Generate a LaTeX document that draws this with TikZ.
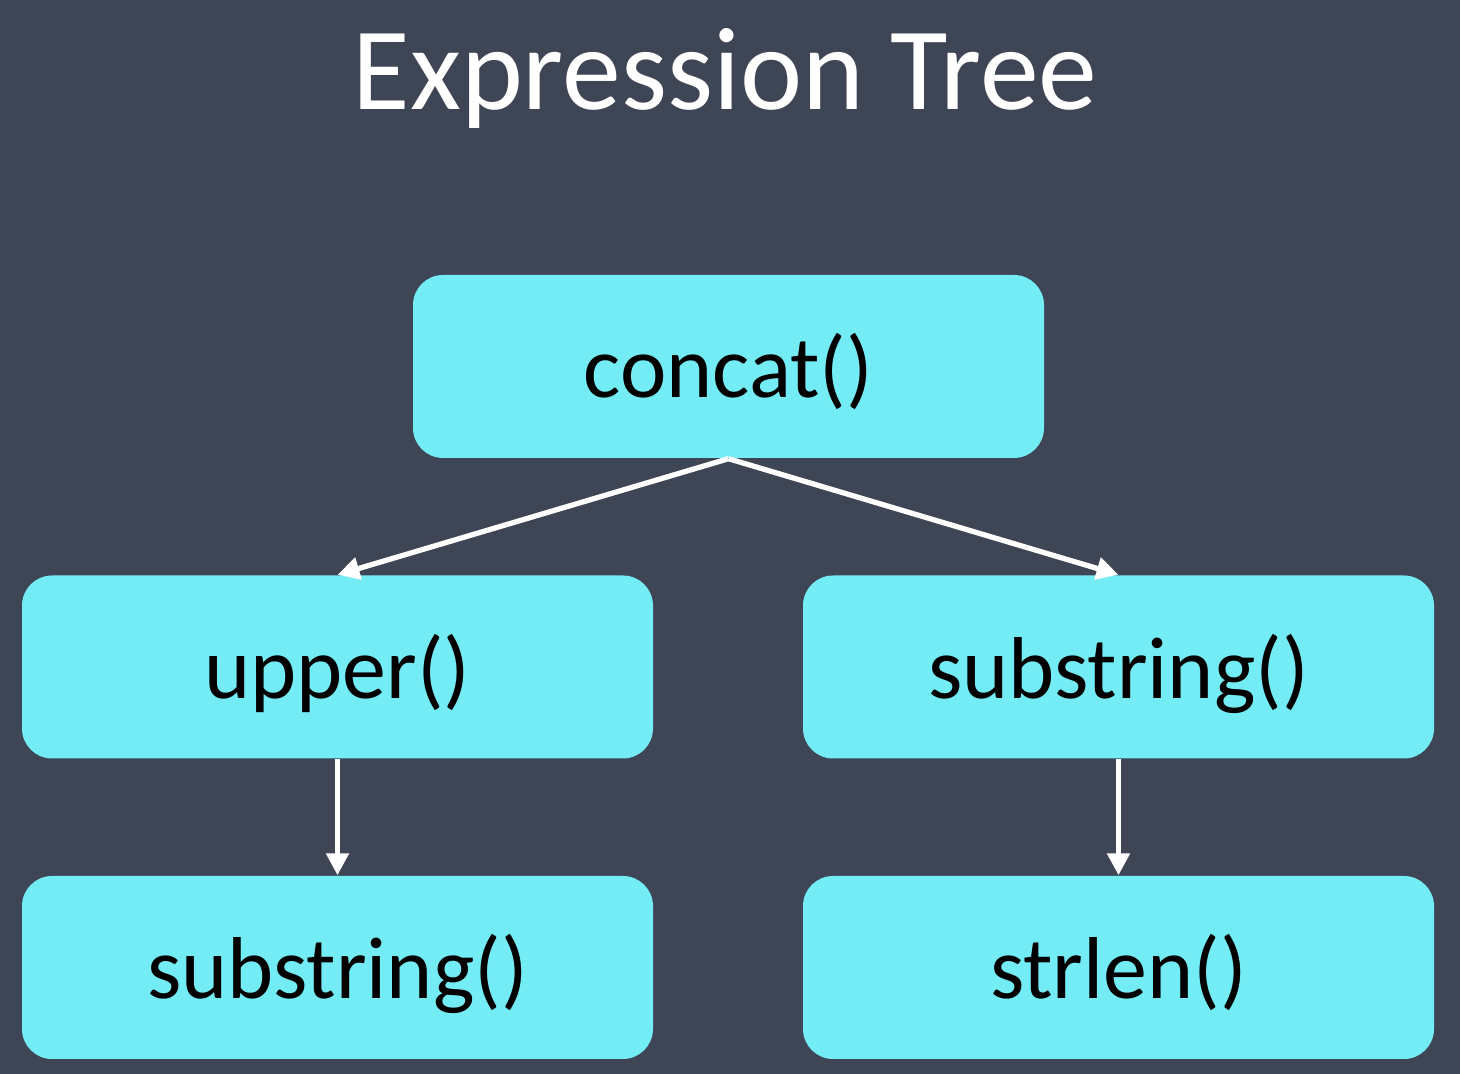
\documentclass[tikz,border=0pt]{standalone}
\usepackage{fontspec}
\setmainfont{Carlito}
\usetikzlibrary{arrows.meta}
\definecolor{bgc}{HTML}{3E4555}
\definecolor{boxc}{HTML}{74ECF6}
\tikzset{
  fbox/.style={draw=none, fill=boxc, rounded corners=0.3cm, minimum width=6.31cm, minimum height=1.83cm, inner sep=0pt, text height=0.78cm, text depth=0.15cm, font=\fontsize{25pt}{30pt}\selectfont, text=black},
  conn/.style={draw=white, line width=1.5pt, -{Triangle[width=0.22cm,length=0.22cm]}}
}
\begin{document}
\begin{tikzpicture}
\fill[bgc] (0,0) rectangle (14.6,10.74);
\useasboundingbox (0,0) rectangle (14.6,10.74);
\node[text=white, font=\fontsize{33.5pt}{40pt}\selectfont, anchor=base] (title) at (7.25,9.64) {Expression Tree};
\node[fbox] (top) at (7.285,7.075) {concat()};
\node[fbox] (ml) at (3.375,4.07) {upper()};
\node[fbox] (mr) at (11.185,4.07) {substring()};
\node[fbox] (bl) at (3.375,1.065) {substring()};
\node[fbox] (br) at (11.185,1.065) {strlen()};
\draw[conn] (top.south) -- (ml.north);
\draw[conn] (top.south) -- (mr.north);
\draw[conn] (ml.south) -- (bl.north);
\draw[conn] (mr.south) -- (br.north);
\end{tikzpicture}
\end{document}
